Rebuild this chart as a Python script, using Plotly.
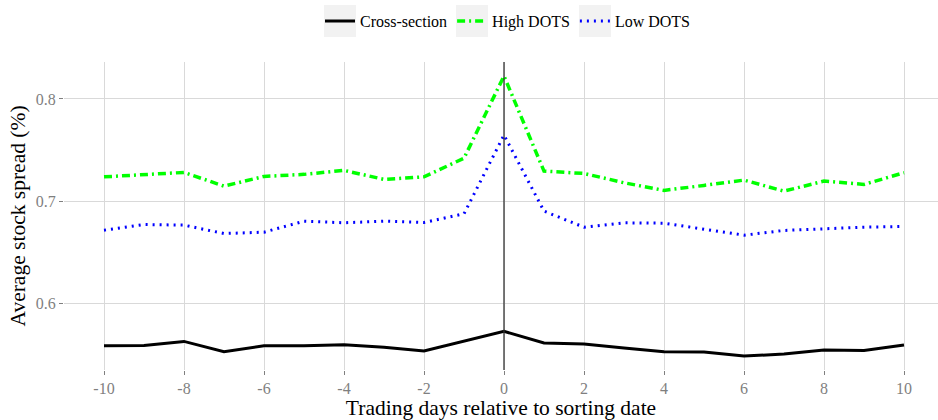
import plotly.graph_objects as go

days = list(range(-10, 11))
cross_section = [0.5585, 0.5588, 0.5627, 0.5526, 0.5585, 0.5585, 0.5595, 0.5569, 0.5533, 0.5630,
                 0.5725, 0.5611, 0.5601, 0.5562, 0.5526, 0.5522, 0.5484, 0.5503, 0.5542, 0.5539, 0.5591]
high_dots = [0.7238, 0.7262, 0.7281, 0.7147, 0.7242, 0.7262, 0.7301, 0.7213, 0.7238, 0.7420,
             0.8225, 0.7294, 0.7271, 0.7180, 0.7105, 0.7154, 0.7206, 0.7098, 0.7196, 0.7164, 0.7278]
low_dots = [0.6716, 0.6771, 0.6765, 0.6683, 0.6696, 0.6804, 0.6788, 0.6804, 0.6791, 0.6876,
            0.7647, 0.6902, 0.6745, 0.6788, 0.6784, 0.6722, 0.6667, 0.6713, 0.6729, 0.6745, 0.6752]
x_ticks = [-10, -8, -6, -4, -2, 0, 2, 4, 6, 8, 10]
y_ticks = [0.6, 0.7, 0.8]

FONT = "Liberation Serif"
fig = go.Figure()
fig.add_trace(go.Scatter(x=days, y=cross_section, mode="lines", name="Cross-section",
                         line=dict(color="black", width=3)))
fig.add_trace(go.Scatter(x=days, y=high_dots, mode="lines", name="High DOTS",
                         line=dict(color="#00ff00", width=3.5, dash="8px,4px,2px,4px")))
fig.add_trace(go.Scatter(x=days, y=low_dots, mode="lines", name="Low DOTS",
                         line=dict(color="#0000ff", width=3, dash="2px,5px")))

# vertical reference line at x=0
fig.add_shape(type="line", xref="x", yref="paper", x0=0, x1=0, y0=0, y1=1,
              line=dict(color="#333333", width=1.3), layer="above")

# grey legend key backgrounds
for x0, x1 in [(324, 356), (456, 488), (579, 611)]:
    fig.add_shape(type="rect", xref="paper", yref="paper",
                  x0=(x0 - 64) / 874, x1=(x1 - 64) / 874,
                  y0=(370 - 37) / 308, y1=(370 - 5) / 308,
                  fillcolor="#f2f2f2", line=dict(width=0), layer="below")

fig.update_layout(
    width=938, height=420,
    margin=dict(l=64, r=0, t=62, b=50),
    paper_bgcolor="white", plot_bgcolor="white",
    font=dict(family=FONT, color="black"),
    showlegend=True,
    legend=dict(orientation="h", xref="container", yref="container", x=320 / 938, xanchor="left",
                y=0.99, yanchor="top", font=dict(size=16, family=FONT, color="black"),
                bgcolor="rgba(0,0,0,0)", itemwidth=30, traceorder="normal"),
    xaxis=dict(range=[-11.0, 10.85], tickvals=x_ticks, ticktext=[str(v) for v in x_ticks],
               showgrid=True, gridcolor="#d9d9d9", gridwidth=1.2, zeroline=False,
               ticks="outside", ticklen=4, tickcolor="#7f7f7f", tickwidth=1.2,
               tickfont=dict(size=16, color="#7f7f7f", family=FONT),
               title=dict(text="Trading days relative to sorting date", font=dict(size=21.5, family=FONT), standoff=1),
               showline=False),
    yaxis=dict(range=[0.5347, 0.8362], tickvals=y_ticks, ticktext=["0.6", "0.7", "0.8"],
               showgrid=True, gridcolor="#d9d9d9", gridwidth=1.2, zeroline=False,
               ticks="outside", ticklen=4, tickcolor="#7f7f7f", tickwidth=1.2,
               tickfont=dict(size=16, color="#7f7f7f", family=FONT),
               title=dict(text="Average stock spread (%)", font=dict(size=21.5, family=FONT), standoff=4),
               showline=False),
)

fig.write_html("out.html")
